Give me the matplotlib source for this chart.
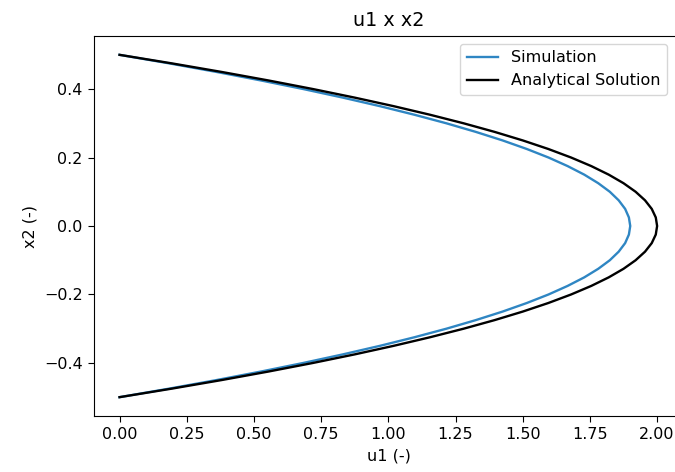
import matplotlib
matplotlib.use("Agg")
import matplotlib.pyplot as plt

x2 = [-0.5, -0.475, -0.45, -0.425, -0.4, -0.375, -0.35, -0.325, -0.3, -0.275,
      -0.25, -0.225, -0.2, -0.175, -0.15, -0.125, -0.1, -0.075, -0.05, -0.025,
      0.0, 0.025, 0.05, 0.075, 0.1, 0.125, 0.15, 0.175, 0.2, 0.225,
      0.25, 0.275, 0.3, 0.325, 0.35, 0.375, 0.4, 0.425, 0.45, 0.475, 0.5]

u1_sim = [0.0, 0.185, 0.361, 0.527, 0.684, 0.831, 0.969, 1.097, 1.216, 1.325,
          1.425, 1.515, 1.596, 1.667, 1.729, 1.781, 1.824, 1.857, 1.881, 1.895,
          1.90, 1.895, 1.881, 1.857, 1.824, 1.781, 1.729, 1.667, 1.596, 1.515,
          1.425, 1.325, 1.216, 1.097, 0.969, 0.831, 0.684, 0.527, 0.361, 0.185, 0.0]

u1_ana = [0.0, 0.195, 0.38, 0.555, 0.72, 0.875, 1.02, 1.155, 1.28, 1.395,
          1.5, 1.595, 1.68, 1.755, 1.82, 1.875, 1.92, 1.955, 1.98, 1.995,
          2.0, 1.995, 1.98, 1.955, 1.92, 1.875, 1.82, 1.755, 1.68, 1.595,
          1.5, 1.395, 1.28, 1.155, 1.02, 0.875, 0.72, 0.555, 0.38, 0.195, 0.0]

s = 1.15
plt.rcParams.update({
    "font.size": 10 * s,
    "axes.titlesize": 12 * s,
    "axes.labelsize": 10 * s,
    "xtick.labelsize": 10 * s,
    "ytick.labelsize": 10 * s,
    "legend.fontsize": 10 * s,
    "xtick.major.size": 3.5 * s,
    "ytick.major.size": 3.5 * s,
    "xtick.major.pad": 3.5 * s,
    "ytick.major.pad": 3.5 * s,
    "axes.titlepad": 6 * s,
    "axes.labelpad": 4 * s,
})

fig = plt.figure(figsize=(6.75, 4.72), dpi=100)
W, H = 675, 472
left, right, top, bottom = 94, 684, 36, 416
ax = fig.add_axes([left / W, (H - bottom) / H, (right - left) / W, (bottom - top) / H])

ax.plot(u1_sim, x2, color="#2f86c3", lw=1.7, label="Simulation")
ax.plot(u1_ana, x2, color="black", lw=1.7, label="Analytical Solution")

ax.set_title("u1 x x2")
ax.set_xlabel("u1 (-)")
ax.set_ylabel("x2 (-)")
ax.set_xticks([0, 0.25, 0.5, 0.75, 1.0, 1.25, 1.5, 1.75, 2.0])
ax.set_xlim(-0.095, 2.1)
ax.set_ylim(-0.555, 0.555)
ax.legend(loc="upper right", bbox_to_anchor=(0.985, 1.0))

fig.savefig("out.png", dpi=100)
